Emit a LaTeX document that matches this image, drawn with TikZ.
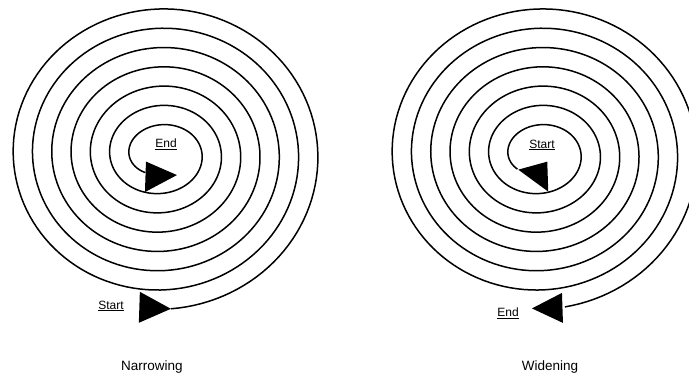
\documentclass[tikz,border=0pt]{standalone}
\usepackage{fontspec}
\setmainfont{Liberation Sans}
\usepackage{tikz}
\usetikzlibrary{calc}

% spiral point: centre x, turn parameter t
\newcommand{\spx}[2]{#1+(162-19.3*#2)*cos(90-360*#2)}
\newcommand{\spy}[1]{154.3+(155-19.3*#1)*sin(90-360*#1)}

\begin{document}
\begin{tikzpicture}[
    x=1pt, y=-1pt,
    spiral/.style={draw, line width=1.5pt, line join=round},
    marker/.style={fill=black},
    lbl/.style={inner sep=0pt, font=\fontsize{12}{14}\selectfont},
    caption/.style={inner sep=0pt, font=\fontsize{13.5}{16}\selectfont}
]
    \useasboundingbox (0,0) rectangle (689,373);

    % Narrowing
    \draw[spiral] plot[domain=0.01:6.91, samples=900, variable=\t]
        ({\spx{160.7}{\t}}, {\spy{\t}});
    \coordinate (nStart) at ({\spx{160.7}{0.01}}, {\spy{0.01}});
    \coordinate (nEnd) at ({\spx{160.7}{6.91}}, {\spy{6.91}});
    \fill[marker] (nStart) -- ($(nStart)+(-31,-17)$) -- ($(nStart)+(-32,14)$) -- cycle;
    \fill[marker] ($(nEnd)+(0.6,-11)$) -- ($(nEnd)+(31.6,2.5)$) -- ($(nEnd)+(-0.4,19.5)$) -- cycle;

    \node[lbl] (nstartlbl) at (111,306) {\underline{Start}};
    \node[lbl] (nendlbl) at (166,144) {\underline{End}};
    \node[caption] (narrow) at (152,367) {Narrowing};

    % Widening
    \draw[spiral] plot[domain=0.025:6.87, samples=900, variable=\t]
        ({\spx{539.7}{\t}}, {\spy{\t}});
    \coordinate (wEnd) at ({\spx{539.7}{0.025}}, {\spy{0.025}});
    \coordinate (wStart) at ({\spx{539.7}{6.87}}, {\spy{6.87}});
    \fill[marker] (wStart) -- ($(wStart)+(29,-8)$) -- ($(wStart)+(30,22)$) -- cycle;
    \fill[marker] ($(wEnd)+(-3,-14)$) -- ($(wEnd)+(-33,1.5)$) -- ($(wEnd)+(-2,16)$) -- cycle;

    \node[lbl] (wstartlbl) at (542,145) {\underline{Start}};
    \node[lbl] (wendlbl) at (508,313) {\underline{End}};
    \node[caption] (widen) at (550,367) {Widening};
\end{tikzpicture}
\end{document}
